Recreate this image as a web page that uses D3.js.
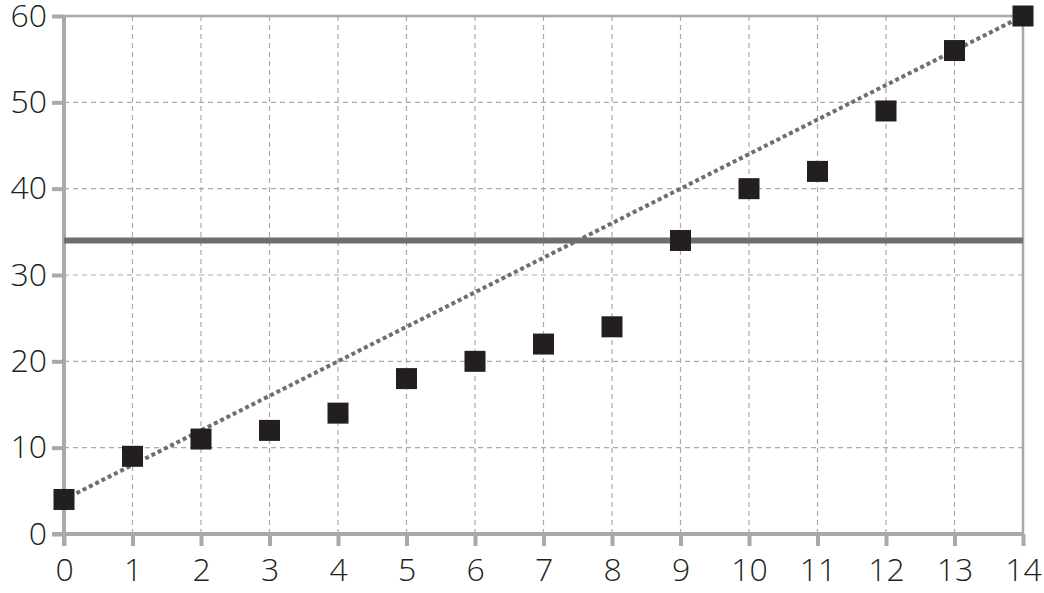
<!DOCTYPE html>
<html><head><meta charset="utf-8">
<script src="https://cdn.jsdelivr.net/npm/d3@7"></script>
<style>body{margin:0;background:#fff}text{font-family:"Open Sans",sans-serif;font-weight:300;fill:#231f20}</style>
</head><body><svg id="c" width="1044" height="593"></svg>
<script>
const xs = [0, 1, 2, 3, 4, 5, 6, 7, 8, 9, 10, 11, 12, 13, 14];
const ys = [4, 9, 11, 12, 14, 18, 20, 22, 24, 34, 40, 42, 49, 56, 60];
const refLevel = 34;
const trend = [[0, 4], [14, 60]];
const yTicks = [0, 10, 20, 30, 40, 50, 60];

const svg = d3.select("#c");
const x = d3.scaleLinear().domain([0, 14]).range([64, 1023]);
const y = d3.scaleLinear().domain([0, 60]).range([534, 16]);
const grey = "#a7a9ac";

// grid
svg.append("g").selectAll("line").data(xs.slice(1, -1)).join("line")
    .attr("x1", d => x(d)).attr("x2", d => x(d)).attr("y1", y(60)).attr("y2", y(0))
    .style("stroke", grey).style("stroke-width", 1.2).style("stroke-dasharray", "5 4");
svg.append("g").selectAll("line").data(yTicks.slice(1, -1)).join("line")
    .attr("x1", x(0)).attr("x2", x(14)).attr("y1", d => y(d)).attr("y2", d => y(d))
    .style("stroke", grey).style("stroke-width", 1.2).style("stroke-dasharray", "5 4");

// frame
svg.append("rect").attr("x", x(0)).attr("y", y(60)).attr("width", x(14) - x(0)).attr("height", y(0) - y(60))
    .style("fill", "none").style("stroke", grey).style("stroke-width", 2.5);

// axes
const xAxis = svg.append("g").attr("transform", `translate(0 ${y(0)})`)
    .call(d3.axisBottom(x).tickValues(xs).tickSize(12).tickPadding(12).tickFormat(d3.format("d")));
const yAxis = svg.append("g").attr("transform", `translate(${x(0)} 0)`)
    .call(d3.axisLeft(y).tickValues(yTicks).tickSize(12).tickPadding(5).tickFormat(d3.format("d")));
[xAxis, yAxis].forEach(a => {
    a.select(".domain").style("stroke", grey).style("stroke-width", 4);
    a.selectAll(".tick line").style("stroke", grey).style("stroke-width", 4);
    a.selectAll("text").style("font-size", "32px").style("fill", "#231f20");
});
xAxis.select(".domain").attr("d", `M${x(0) - 12},0H${x(14)}`);
yAxis.select(".domain").attr("d", `M0,${y(0) + 12}V${y(60)}`);
yAxis.selectAll("text").attr("dy", "0.32em");

// reference level
svg.append("line").attr("x1", x(0)).attr("x2", x(14)).attr("y1", y(refLevel)).attr("y2", y(refLevel))
    .style("stroke", "#6d6e71").style("stroke-width", 6);

// trend
svg.append("path").attr("d", d3.line().x(d => x(d[0])).y(d => y(d[1]))(trend))
    .style("stroke", "#6d6e71").style("stroke-width", 4).style("stroke-dasharray", "4 3").style("fill", "none");

// points
const s = 21;
svg.append("g").selectAll("rect").data(xs).join("rect")
    .attr("x", (d, i) => x(d) - s / 2).attr("y", (d, i) => y(ys[i]) - s / 2)
    .attr("width", s).attr("height", s).style("fill", "#231f20");
</script></body></html>
